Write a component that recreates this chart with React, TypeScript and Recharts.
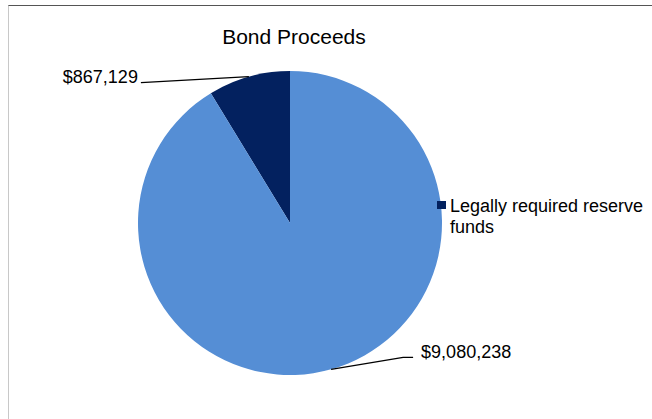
import React from "react";
import { PieChart, Pie, Cell, Legend } from "recharts";

const categories = ["Legally required reserve funds", "Other bond proceeds"];
const values = [867129, 9080238];
const labels = ["$867,129", "$9,080,238"];
const colors = ["#03215F", "#558ED5"];
const title = "Bond Proceeds";

const data = categories.map((name, i) => ({ name, value: values[i], label: labels[i] }));

const FONT = '"Liberation Sans", Arial, Helvetica, sans-serif';
const RADIAN = Math.PI / 180;

const renderLabel = (props: any) => {
  const { cx, cy, midAngle, outerRadius, index } = props;
  const ex = cx + outerRadius * Math.cos(-midAngle * RADIAN);
  const ey = cy + outerRadius * Math.sin(-midAngle * RADIAN);
  if (index === 0) {
    const x2 = ex - 108;
    const y2 = ey + 6;
    return (
      <g>
        <polyline points={`${ex},${ey} ${x2},${y2}`} stroke="#000" strokeWidth={1.2} fill="none" />
        <text x={x2 - 3} y={y2} textAnchor="end" fontSize={18} fontFamily={FONT} fill="#000">
          {labels[index]}
        </text>
      </g>
    );
  }
  const x2 = ex + 72;
  const y2 = ey - 12;
  const x3 = x2 + 10;
  return (
    <g>
      <polyline points={`${ex},${ey} ${x2},${y2} ${x3},${y2}`} stroke="#000" strokeWidth={1.2} fill="none" />
      <text x={x3 + 8} y={y2 + 1} textAnchor="start" fontSize={18} fontFamily={FONT} fill="#000">
        {labels[index]}
      </text>
    </g>
  );
};

const renderLegend = () => (
  <div style={{ display: "flex", alignItems: "flex-start", fontFamily: FONT, fontSize: 18, lineHeight: "21px", color: "#000" }}>
    <div style={{ width: 9, height: 8, background: colors[0], marginTop: 5, marginRight: 4, flex: "none" }} />
    <div style={{ width: 200 }}>{categories[0]}</div>
  </div>
);

export default function App() {
  return (
    <div style={{ position: "absolute", left: 0, top: 0, width: 652, height: 419, background: "#fff", overflow: "hidden" }}>
      <div style={{ position: "absolute", left: 8, top: 5, width: 700, height: 500, borderTop: "1px solid #555", borderLeft: "1px solid #c8c8c8" }} />
      <div style={{ position: "absolute", left: 0, top: 0 }}>
        <PieChart width={652} height={419} margin={{ top: 0, right: 0, bottom: 0, left: 0 }}>
          <text x={294} y={44} textAnchor="middle" fontSize={21} fontFamily={FONT} fill="#000">
            {title}
          </text>
          <Pie
            data={data}
            dataKey="value"
            nameKey="name"
            cx={290}
            cy={223}
            outerRadius={152}
            startAngle={90}
            endAngle={450}
            stroke="none"
            label={renderLabel}
            labelLine={false}
            isAnimationActive={false}
          >
            {data.map((d, i) => (
              <Cell key={d.name} fill={colors[i]} />
            ))}
          </Pie>
          <Legend
            content={renderLegend}
            wrapperStyle={{ position: "absolute", left: 437, top: 196, width: 215 }}
          />
        </PieChart>
      </div>
    </div>
  );
}
